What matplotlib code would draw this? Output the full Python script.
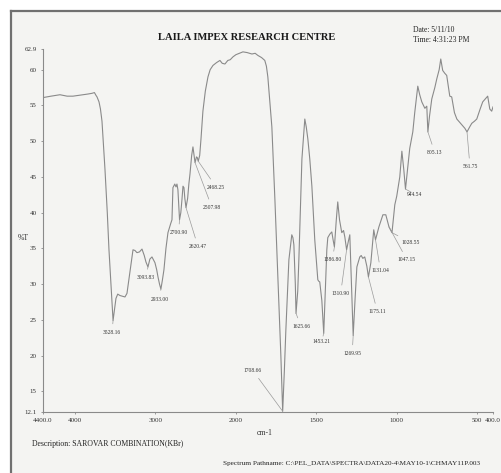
import numpy as np
import matplotlib.pyplot as plt
from matplotlib.lines import Line2D
from matplotlib.patches import Rectangle

plt.rcParams["font.family"] = ["Liberation Serif", "DejaVu Serif"]

# FT-IR trace: wavenumber (cm-1) and transmittance (%T)
wavenumber = [
    4400, 4300, 4189, 4100, 4027, 3960, 3902, 3840, 3790, 3760, 3740, 3728,
    3703, 3685, 3666, 3650, 3629, 3600, 3579, 3550, 3528.16, 3510, 3492, 3470,
    3442, 3410, 3380, 3355, 3320, 3280, 3255, 3231, 3200, 3168, 3140, 3119,
    3093.83, 3070, 3044, 3025, 3007, 2985, 2969, 2950, 2933.00, 2915, 2895,
    2870, 2845, 2810, 2795, 2783, 2760, 2745, 2733, 2721, 2710, 2700.90, 2685,
    2671, 2658, 2646, 2635, 2620.47, 2600, 2585, 2571, 2550, 2534, 2520,
    2507.98, 2490, 2480, 2468.25, 2450, 2434, 2410, 2380, 2347, 2320, 2285,
    2240, 2198, 2170, 2136, 2100, 2070, 2036, 2000, 1956, 1930, 1900, 1880,
    1863, 1840, 1820, 1810, 1801, 1790, 1776, 1757, 1733, 1720, 1708.66, 1698,
    1689, 1670, 1652, 1645, 1639, 1630, 1625.66, 1615, 1608, 1589, 1571, 1562,
    1552, 1540, 1527, 1509, 1490, 1484, 1478, 1465, 1453.21, 1440, 1434, 1428,
    1415, 1403, 1395, 1386.80, 1375, 1366, 1355, 1341, 1330, 1322, 1310.90,
    1300, 1291, 1282, 1269.95, 1258, 1247, 1229, 1220, 1210, 1198, 1185,
    1175.11, 1160, 1142, 1131.04, 1110, 1085, 1067, 1047.15, 1028.55, 1011,
    999, 980, 967, 955, 944.54, 930, 918, 899, 887, 868, 856, 843, 824, 812,
    805.13, 795, 781, 762, 750, 735, 725, 713, 700, 688, 669, 657, 640, 625,
    594, 575, 561.75, 545, 532, 515, 501, 480, 464, 445, 433, 420, 408, 400,
]
transmittance = [
    56.1, 56.3, 56.5, 56.3, 56.3, 56.4, 56.5, 56.6, 56.7, 56.8, 56.4, 56.2,
    55.5, 54.5, 52.8, 50.0, 46.1, 40.0, 34.8, 29.0, 24.9, 26.5, 28.0, 28.6,
    28.4, 28.3, 28.2, 28.7, 31.5, 34.8, 34.7, 34.4, 34.5, 34.9, 34.0, 33.1,
    32.4, 33.5, 33.8, 33.4, 33.0, 32.0, 31.0, 30.0, 29.3, 30.5, 32.0,
    35.0, 37.2, 38.5, 39.0, 43.5, 44.0, 43.6, 44.0, 43.2, 41.0, 39.0, 40.0,
    41.8, 43.7, 43.5, 42.0, 40.7, 42.0, 44.0, 45.4, 48.0, 49.2, 48.0,
    47.0, 47.8, 47.7, 47.2, 48.0, 50.3, 54.2, 57.0, 59.0, 60.0, 60.6,
    61.0, 61.3, 60.9, 60.8, 61.3, 61.4, 61.8, 62.1, 62.5, 62.4, 62.2, 62.3,
    62.0, 61.7, 61.3, 60.5, 59.0, 56.0, 52.0, 41.8, 27.7, 20.0, 12.2, 18.0,
    23.5, 33.4, 36.9, 36.5, 35.5, 30.0, 25.9, 29.0, 33.4, 47.5, 53.1, 52.0,
    50.3, 47.5, 43.7, 36.2, 30.6, 30.4, 30.3, 27.7, 23.1, 31.0, 34.8, 36.5,
    37.0, 37.3, 36.2, 35.2, 39.0, 41.5, 39.0, 37.2, 37.5, 36.6, 34.8,
    36.0, 36.9, 31.0, 22.8, 28.0, 32.4, 33.8, 34.0, 33.6, 33.8, 32.5,
    31.0, 33.0, 37.6, 36.2, 38.0, 39.7, 39.7, 38.0, 37.2, 41.1,
    42.3, 45.0, 48.6, 46.0, 43.3, 46.5, 49.0, 51.3, 54.0, 57.7, 56.5, 55.5, 54.6, 54.9,
    51.3, 53.5, 55.9, 57.5, 58.7, 60.0, 61.5, 59.9, 59.5, 59.2, 56.3, 56.2, 54.0, 53.1,
    52.3, 51.8, 51.3, 52.0, 52.5, 52.8, 53.1, 54.5, 55.5, 56.0, 56.3, 54.5, 54.2, 54.8,
]

# labelled peaks
peak_labels = [3528.16, 3093.83, 2933.00, 2700.90, 2620.47, 2507.98, 2468.25,
               1708.66, 1625.66, 1453.21, 1386.80, 1310.90, 1269.95, 1175.11,
               1131.04, 1047.15, 1028.55, 944.54, 805.13, 561.75]
# label offsets from the peak, in pixels (dx, dy)
label_offsets = [(-1, -12), (-2, -11), (-1, -10), (-1, -13), (12, -39),
                 (17, -45), (18, -26), (-30, 41), (5, -13), (-2, -8),
                 (-2, -13), (-6, -44), (-1, -18), (9, -35), (5, -31),
                 (18, -33), (19, -10), (9, -5), (7, -21), (3, -35)]

y_ticks = [12.1, 15, 20, 25, 30, 35, 40, 45, 50, 55, 60, 62.9]
y_ticklabels = ["12.1", "15", "20", "25", "30", "35", "40", "45", "50", "55",
                "60", "62.9"]
x_ticks = [4400, 4000, 3000, 2000, 1500, 1000, 500, 400]
x_ticklabels = ["4400.0", "4000", "3000", "2000", "1500", "1000", "500", "400.0"]


def expand(x):
    # scale doubles below 2000 cm-1
    x = np.asarray(x, dtype=float)
    return np.where(x >= 2000, x, 2 * x - 2000)


def contract(u):
    u = np.asarray(u, dtype=float)
    return np.where(u >= 2000, u, (u + 2000) / 2)


W, H = 501, 473
fig = plt.figure(figsize=(W / 100, H / 100), dpi=100, facecolor="white")

# scanned page area with its dark border
fig.add_artist(Rectangle((11 / W, 0), 1 - 11 / W, 1 - 11 / H,
                         transform=fig.transFigure, facecolor="#f4f4f2",
                         edgecolor="none", zorder=-5))
fig.add_artist(Line2D([11 / W, 1], [1 - 11 / H] * 2, color="#707070", lw=1.6))
fig.add_artist(Line2D([11 / W] * 2, [0, 1 - 11 / H], color="#707070", lw=1.6))

ax = fig.add_axes([43 / W, 61 / H, 450 / W, 363 / H])
ax.set_facecolor("none")
ax.set_xscale("function", functions=(expand, contract))
ax.set_xlim(4400, 400)
ax.set_ylim(12.1, 62.9)

ax.plot(wavenumber, transmittance, color="#8a8a8a", lw=0.8)

for wn, (dx, dy) in zip(peak_labels, label_offsets):
    t = transmittance[wavenumber.index(wn)]
    ax.annotate(f"{wn:.2f}", xy=(wn, t), xytext=(dx, dy),
                textcoords="offset pixels", ha="center", va="center",
                fontsize=4.0, color="#333333",
                arrowprops=dict(arrowstyle="-", color="#9a9a9a", lw=0.5,
                                shrinkA=2.5, shrinkB=0))

for side in ("top", "right"):
    ax.spines[side].set_visible(False)
for side in ("left", "bottom"):
    ax.spines[side].set_color("#8a8a8a")
    ax.spines[side].set_linewidth(0.8)

ax.set_yticks(y_ticks)
ax.set_yticklabels(y_ticklabels)
ax.set_xticks(x_ticks)
ax.set_xticklabels(x_ticklabels)
ax.minorticks_off()
ax.tick_params(axis="both", length=1.5, width=0.6, color="#8a8a8a",
               labelsize=5, labelcolor="#333333", pad=3)

fig.text(247 / W, 1 - 38 / H, "LAILA IMPEX RESEARCH CENTRE", ha="center",
         va="center", fontsize=7.6, fontweight="bold", color="#1a1a1a")
fig.text(413 / W, 1 - 30 / H, "Date: 5/11/10", ha="left", va="center",
         fontsize=5.5, color="#222222")
fig.text(413 / W, 1 - 40 / H, "Time: 4:31:23 PM", ha="left", va="center",
         fontsize=5.5, color="#222222")
fig.text(23 / W, 1 - 238 / H, "%T", ha="center", va="center", fontsize=5.5,
         color="#333333")
fig.text(265 / W, 1 - 433 / H, "cm-1", ha="center", va="center", fontsize=5.5,
         color="#333333")
fig.text(32 / W, 1 - 444 / H, "Description: SAROVAR COMBINATION(KBr)",
         ha="left", va="center", fontsize=5.6, color="#222222")
fig.text(223 / W, 1 - 463 / H,
         r"Spectrum Pathname: C:\PEL_DATA\SPECTRA\DATA20-4\MAY10-1\CHMAY11P.003",
         ha="left", va="center", fontsize=5.2, color="#222222")

fig.savefig("out.png", dpi=100, facecolor=fig.get_facecolor())
